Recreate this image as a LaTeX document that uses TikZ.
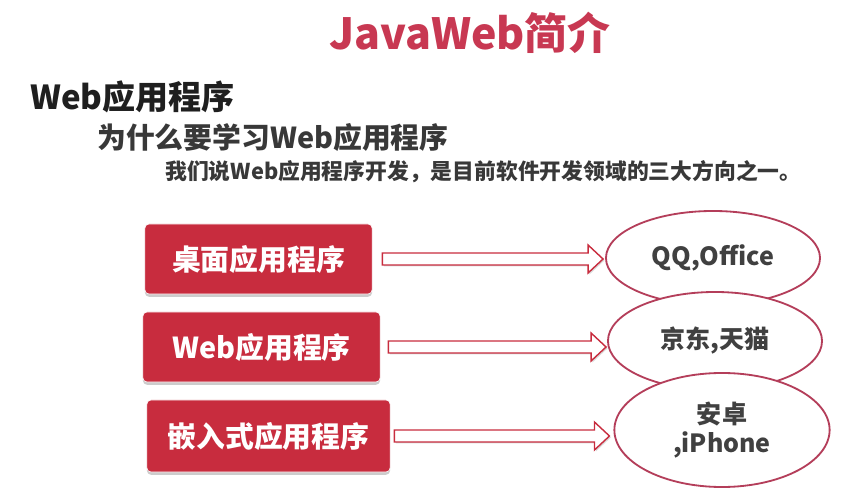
\documentclass[tikz,border=0pt]{standalone}
\usepackage{fontspec}
\setmainfont{Noto Sans CJK SC}
\usepackage{tikz}
\usetikzlibrary{shapes.geometric, shadows, calc}

\definecolor{slidered}{RGB}{200,44,62}
\definecolor{titlered}{RGB}{200,56,82}
\definecolor{ringred}{RGB}{180,62,90}
\definecolor{textgray}{RGB}{64,64,64}

% hollow block arrow from #1 to the tip #2
\newcommand{\hollowarrow}[2]{%
    \draw [arrow] ($(#1)+(0,6)$) -- ($(#2)+(-15,6)$) -- ($(#2)+(-15,14)$) -- (#2)
        -- ($(#2)+(-15,-14)$) -- ($(#2)+(-15,-6)$) -- ($(#1)+(0,-6)$) -- cycle;}

\begin{document}
\begin{tikzpicture}[
        x=0.025cm, y=-0.025cm,
        heading/.style={
            anchor=west,
            inner sep=0pt,
            font=\bfseries
        },
        app/.style={
            rectangle,
            draw=white,
            fill=slidered,
            rounded corners=3pt,
            minimum height=1.75cm,
            text=white,
            font=\fontsize{20.5}{24}\selectfont\bfseries,
            drop shadow={shadow xshift=0pt, shadow yshift=-2pt, fill=black, opacity=0.2}
        },
        example/.style={
            ellipse,
            draw=ringred,
            fill=white,
            line width=1.3pt,
            inner sep=0pt,
            align=center,
            text=textgray,
            font=\fontsize{17.8}{21}\selectfont\bfseries
        },
        arrow/.style={draw=slidered, fill=white, line width=1pt, line join=miter,
            drop shadow={shadow xshift=1pt, shadow yshift=-1pt, fill=black, opacity=0.15}}
    ]

    \useasboundingbox (0,0) rectangle (864,498);

    \node (title) [font=\fontsize{30.5}{34}\selectfont\bfseries, text=titlered] at (470,33) {JavaWeb简介};

    \node (head) [heading, font=\fontsize{23.5}{27}\selectfont\bfseries, text=black!88] at (30,97) {Web应用程序};
    \node (why) [heading, font=\fontsize{20.5}{24}\selectfont\bfseries, text=black!78] at (97,137) {为什么要学习Web应用程序};
    \node (claim) [heading, font=\fontsize{15.5}{18}\selectfont\bfseries, text=black!78] at (165,172) {我们说Web应用程序开发，是目前软件开发领域的三大方向之一。};

    \node (desk) [app, minimum width=5.68cm] at (258.5,259) {桌面应用程序};
    \node (web) [app, minimum width=5.93cm] at (261.5,347) {Web应用程序};
    \node (embed) [app, minimum width=6.08cm, minimum height=1.8cm] at (268.5,436) {嵌入式应用程序};

    \node (qq) [example, minimum width=5.35cm, minimum height=2.35cm] at (713,258) {QQ,Office};
    \node (shop) [example, minimum width=5.35cm, minimum height=2.45cm] at (715,341) {京东,天猫};
    \node (phone) [example, minimum width=5.38cm, minimum height=2.85cm] at (722,430) {安卓\\,iPhone};

    \coordinate (deskout) at ($(desk.east)+(10,0)$);
    \coordinate (webout) at ($(web.east)+(8,0)$);
    \coordinate (embedout) at ($(embed.east)+(4,0)$);
    \coordinate (qqin) at ($(qq.west |- desk.east)+(-2,0)$);
    \coordinate (shopin) at ($(shop.west |- web.east)+(-1,0)$);
    \coordinate (phonein) at ($(phone.west |- embed.east)+(-4,0)$);

    \hollowarrow{deskout}{qqin}
    \hollowarrow{webout}{shopin}
    \hollowarrow{embedout}{phonein}

\end{tikzpicture}
\end{document}
